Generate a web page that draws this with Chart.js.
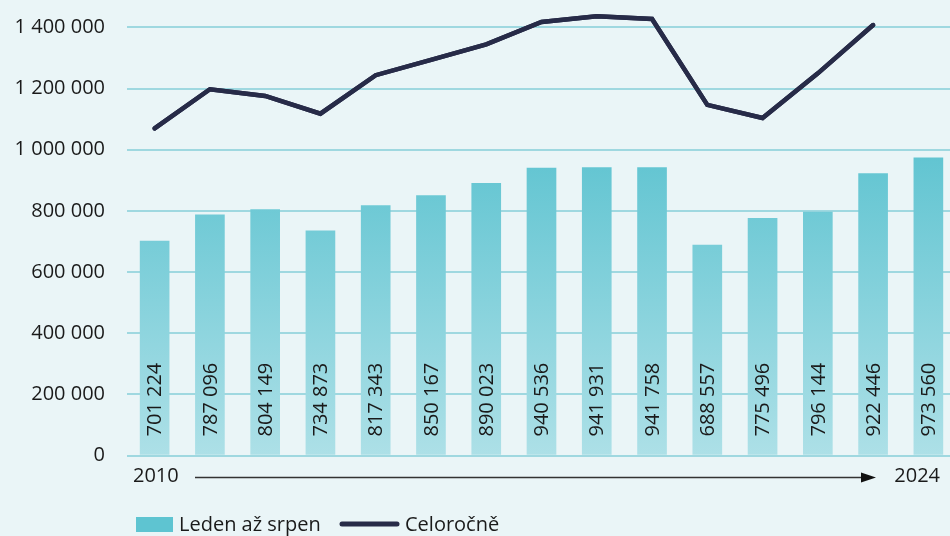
<!DOCTYPE html>
<html>
<head>
<meta charset="utf-8">
<script src="https://cdn.jsdelivr.net/npm/chart.js@4.4.1/dist/chart.umd.min.js"></script>
<style>
  html, body { margin: 0; padding: 0; overflow: hidden; background: #eaf5f7; }
  #wrap { width: 956px; height: 536px; }
</style>
</head>
<body>
<div id="wrap"><canvas id="myChart"></canvas></div>
<script>
const years = ['2010', '2011', '2012', '2013', '2014', '2015', '2016', '2017', '2018', '2019', '2020', '2021', '2022', '2023', '2024'];
const janToAug = [701224, 787096, 804149, 734873, 817343, 850167, 890023, 940536, 941931, 941758, 688557, 775496, 796144, 922446, 973560];
const fullYear = [1070000, 1198000, 1176000, 1118000, 1244000, 1294000, 1345000, 1418000, 1437000, 1428000, 1147000, 1104000, 1250000, 1408000, null];
const yTicks = [0, 200000, 400000, 600000, 800000, 1000000, 1200000, 1400000];

const FONT = '"Open Sans", sans-serif';
const fmt = v => String(v).replace(/\B(?=(\d{3})+(?!\d))/g, ' ');

const extras = {
    id: 'extras',
    afterDraw(chart) {
        const c = chart.ctx;
        const area = chart.chartArea;
        // redraw the line above the grid
        chart.getDatasetMeta(1).controller.draw();

        // values written inside the bars
        const meta = chart.getDatasetMeta(0);
        c.save();
        c.fillStyle = '#1a1a1a';
        c.font = '20px ' + FONT;
        c.textAlign = 'left';
        c.textBaseline = 'middle';
        meta.data.forEach((bar, i) => {
            c.save();
            c.translate(bar.x, area.bottom - 19);
            c.rotate(-Math.PI / 2);
            c.fillText(fmt(janToAug[i]), 0, 1);
            c.restore();
        });

        // year arrow under the axis
        const y = area.bottom + 21;
        c.fillText(years[0], 133, y);
        c.textAlign = 'right';
        c.fillText(years[years.length - 1], 940, y);
        c.strokeStyle = '#333';
        c.lineWidth = 1.3;
        c.beginPath();
        c.moveTo(195, y + 1);
        c.lineTo(864, y + 1);
        c.stroke();
        c.fillStyle = '#111';
        c.beginPath();
        c.moveTo(876, y + 1);
        c.lineTo(861, y - 4);
        c.lineTo(861, y + 6);
        c.closePath();
        c.fill();

        // legend
        const ly = 524;
        c.textAlign = 'left';
        c.fillStyle = '#5ec4d1';
        c.fillRect(136, ly - 7, 37, 15);
        c.fillStyle = '#1a1a1a';
        c.fillText(chart.data.datasets[0].label, 179, ly + 1);
        c.strokeStyle = '#272b48';
        c.lineWidth = 5;
        c.lineCap = 'round';
        c.beginPath();
        c.moveTo(342, ly);
        c.lineTo(397, ly);
        c.stroke();
        c.fillText(chart.data.datasets[1].label, 405, ly + 1);
        c.restore();
    }
};

const ctx = document.getElementById('myChart');
new Chart(ctx, {
    data: {
        labels: years,
        datasets: [{
            type: 'bar',
            label: 'Leden až srpen',
            data: janToAug,
            backgroundColor: (context) => {
                const area = context.chart.chartArea;
                if (!area) return '#7ccdd8';
                const g = context.chart.ctx.createLinearGradient(0, 150, 0, area.bottom);
                g.addColorStop(0, '#60c4d1');
                g.addColorStop(1, '#ade0e7');
                return g;
            },
            barThickness: 29,
            order: 2
        }, {
            type: 'line',
            label: 'Celoročně',
            data: fullYear,
            borderColor: '#272b48',
            borderWidth: 4.5,
            pointRadius: 0,
            borderCapStyle: 'round',
            borderJoinStyle: 'miter',
            tension: 0,
            order: 1
        }]
    },
    options: {
        responsive: true,
        maintainAspectRatio: false,
        animation: false,
        layout: { padding: { top: 0, bottom: 80.5, left: 0, right: 0 } },
        plugins: {
            legend: { display: false },
            tooltip: { enabled: false }
        },
        scales: {
            x: {
                display: false
            },
            y: {
                z: 1,
                min: 0,
                max: 1450700,
                afterBuildTicks: (scale) => {
                    scale.ticks = yTicks.map(v => ({ value: v }));
                },
                afterFit: (scale) => { scale.width = 127; },
                grid: { color: '#9fd8e0', lineWidth: 2, drawTicks: true, tickLength: 22, tickColor: 'rgba(0,0,0,0)' },
                border: { display: false },
                ticks: {
                    padding: 0,
                    color: '#1a1a1a',
                    font: { family: FONT, size: 20 },
                    callback: (v) => fmt(v)
                }
            }
        }
    },
    plugins: [extras]
});
</script>
</body>
</html>
